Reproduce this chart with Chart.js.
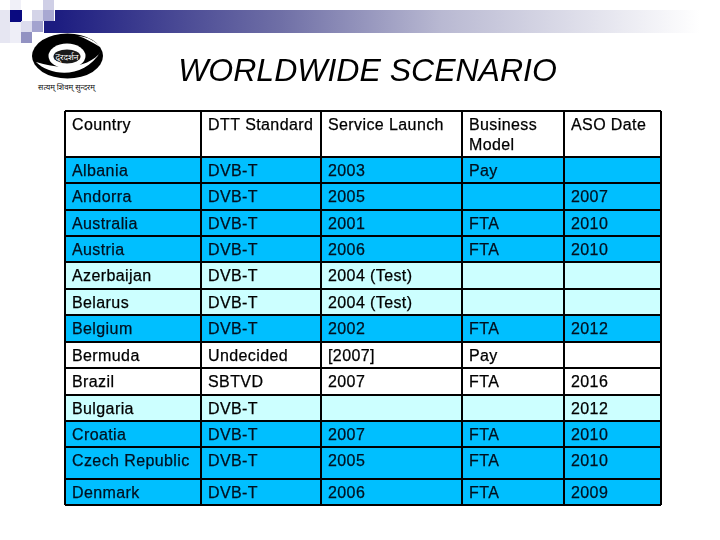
<!DOCTYPE html>
<html>
<head>
<meta charset="utf-8">
<title>Worldwide Scenario</title>
<script src="https://cdn.jsdelivr.net/npm/chart.js@4/dist/chart.umd.min.js"></script>
<style>
  body { margin: 0; background: #fff; }
  #slide { position: relative; width: 720px; height: 540px; overflow: hidden; }
  #slide div, #logo, canvas { position: absolute; }
  canvas { left: 0; top: 0; }
  .sq { width: 11px; height: 11px; }
  #band { left: 55px; top: 10px; width: 645px; height: 23px; background: linear-gradient(to right, #1c1c80, #6f6fa6 35%, #b9b9d2 60%, #fff); }
</style>
</head>
<body>
<div id="slide">
  <div id="band"></div>
  <div class="sq" style="left:44px;top:21px;background:#1c1c80;height:12px"></div>
  <div class="sq" style="left:10px;top:10px;background:#0a0a80;width:12px;height:12px"></div>
  <div class="sq" style="left:43px;top:0;background:#cfcfe6"></div>
  <div class="sq" style="left:32px;top:10px;background:#d4d4e8"></div>
  <div class="sq" style="left:43px;top:10px;background:#a9a9d2"></div>
  <div class="sq" style="left:21px;top:21px;background:#dcdcee"></div>
  <div class="sq" style="left:32px;top:21px;background:#a3a3cf"></div>
  <div class="sq" style="left:21px;top:32px;background:#9292c2"></div>
  <div class="sq" style="left:0;top:10px;background:#e6e6f2;width:10px;height:33px"></div>
  <div class="sq" style="left:10px;top:22px;background:#eeeef7;height:21px"></div>
  <div class="sq" style="left:10px;top:0;background:#f0f0f8;height:10px"></div>
  <svg id="logo" style="left:0;top:0" width="120" height="100" viewBox="0 0 120 100">
    <ellipse cx="67.5" cy="56" rx="35.5" ry="22.5" fill="#000"/>
    <path d="M36 62 C50 76 84 80 101 51 C93 65 66 72 36 62 Z" fill="#fff"/>
    <path d="M78 36 C88 37 96 41 100 47 C92 42 85 38 78 36 Z" fill="#fff"/>
    <ellipse cx="67" cy="56" rx="18.5" ry="12.5" fill="#fff"/>
    <ellipse cx="67" cy="56.5" rx="13.5" ry="7" fill="#1a1a1a"/>
    <text x="67" y="59.5" text-anchor="middle" font-size="8.5" fill="#fff" font-family="Noto Sans, sans-serif">दूरदर्शन</text>
    <text x="66.5" y="90" text-anchor="middle" font-size="7.8" fill="#111" font-family="Noto Sans, sans-serif">सत्यम् शिवम् सुन्दरम्</text>
  </svg>
  <canvas id="table" width="720" height="540"></canvas>
</div>
<script>
const titleText = "WORLDWIDE SCENARIO";

const headers = ["Country", "DTT Standard", "Service Launch", "Business\nModel", "ASO Date"];
const countries = ["Albania", "Andorra", "Australia", "Austria", "Azerbaijan", "Belarus", "Belgium", "Bermuda", "Brazil", "Bulgaria", "Croatia", "Czech Republic", "Denmark"];
const standards = ["DVB-T", "DVB-T", "DVB-T", "DVB-T", "DVB-T", "DVB-T", "DVB-T", "Undecided", "SBTVD", "DVB-T", "DVB-T", "DVB-T", "DVB-T"];
const launches = ["2003", "2005", "2001", "2006", "2004 (Test)", "2004 (Test)", "2002", "[2007]", "2007", "", "2007", "2005", "2006"];
const models = ["Pay", "", "FTA", "FTA", "", "", "FTA", "Pay", "FTA", "", "FTA", "FTA", "FTA"];
const asoDates = ["", "2007", "2010", "2010", "", "", "2012", "", "2016", "2012", "2010", "2010", "2009"];

// table geometry, header row first
const rowHeights = [46, 26, 27, 26, 26, 27, 26, 27, 26, 27, 26, 26, 32, 26];
const colWidths = [136, 120, 141, 102, 97];

const DEEP = "#00bfff", PALE = "#ccffff", WHITE = "#ffffff";
const rowFills = [WHITE, DEEP, DEEP, DEEP, DEEP, PALE, PALE, DEEP, WHITE, WHITE, PALE, DEEP, DEEP, DEEP];

const rows = [headers].concat(countries.map((c, i) => [c, standards[i], launches[i], models[i], asoDates[i]]));

function edges(sizes) {
  const out = [0];
  sizes.forEach(s => out.push(out[out.length - 1] + s));
  return out;
}
const rowEdges = edges(rowHeights);
const colEdges = edges(colWidths);

const cellText = {
  id: "cellText",
  beforeDraw(chart) {
    // the title sits a little right of the table's centre
    chart.titleBlock.left = chart.chartArea.left + 4.5;
    chart.titleBlock.right = chart.chartArea.right + 4.5;
  },
  afterDatasetsDraw(chart) {
    const { ctx, scales } = chart;
    ctx.save();
    ctx.font = "16px 'Liberation Sans', Arial, sans-serif";
    ctx.letterSpacing = "0.4px";
    ctx.textBaseline = "alphabetic";
    ctx.textAlign = "left";
    ctx.lineWidth = 0.25;
    rows.forEach((row, r) => {
      ctx.fillStyle = ctx.strokeStyle = rowFills[r] === DEEP ? "#02101f" : "#000";
      row.forEach((cell, c) => {
        const x = scales.xCols.getPixelForValue(colEdges[c]) + 7;
        const y = scales.y.getPixelForValue(rowEdges[r]) + 19;
        cell.split("\n").forEach((line, l) => {
          ctx.fillText(line, x, y + l * 20);
          ctx.strokeText(line, x, y + l * 20);
        });
      });
    });
    ctx.restore();
  }
};

new Chart(document.getElementById("table"), {
  type: "bar",
  data: {
    labels: [""],
    datasets: rowHeights.map((h, i) => ({
      data: [h],
      backgroundColor: rowFills[i],
      barPercentage: 1,
      categoryPercentage: 1,
      stack: "rows"
    }))
  },
  plugins: [cellText],
  options: {
    responsive: false,
    animation: false,
    layout: { padding: { left: 65, right: 59, bottom: 35 } },
    plugins: {
      legend: { display: false },
      tooltip: { enabled: false },
      title: {
        display: true,
        text: titleText,
        fullSize: false,
        color: "#000",
        font: { family: "'Liberation Sans', Arial, sans-serif", size: 32, style: "italic", weight: "normal" },
        padding: { top: 53, bottom: 19.6 }
      }
    },
    scales: {
      x: { stacked: true, display: false },
      xCols: {
        type: "linear",
        position: "top",
        offset: false,
        min: 0,
        max: colEdges[colEdges.length - 1],
        afterBuildTicks: axis => { axis.ticks = colEdges.map(value => ({ value })); },
        ticks: { display: false },
        border: { display: false },
        grid: { color: "#000", lineWidth: 2, drawTicks: false, offset: false, z: 1 }
      },
      y: {
        stacked: true,
        reverse: true,
        min: 0,
        max: rowEdges[rowEdges.length - 1],
        afterBuildTicks: axis => { axis.ticks = rowEdges.map(value => ({ value })); },
        ticks: { display: false },
        border: { display: false },
        grid: { color: "#000", lineWidth: 2, drawTicks: false, z: 1 }
      }
    }
  }
});
</script>
</body>
</html>
